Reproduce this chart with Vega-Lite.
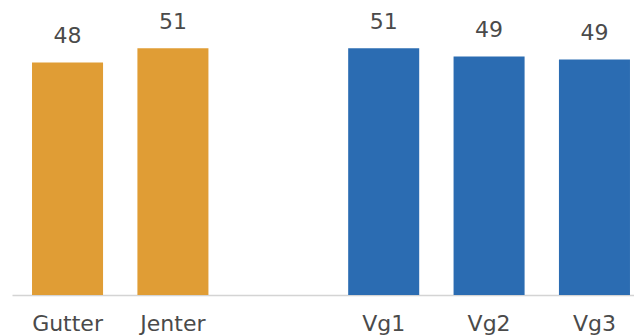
{
  "$schema": "https://vega.github.io/schema/vega-lite/v6.json",
  "autosize": "none",
  "width": 638,
  "height": 295,
  "padding": {"left": 12, "top": 0, "right": 0, "bottom": 41},
  "background": "white",
  "config": {"view": {"stroke": null}, "font": "DejaVu Sans"},
  "data": {"values": [
    {"cat": "Gutter", "value": 48.1, "group": "kjønn"},
    {"cat": "Jenter", "value": 51.0, "group": "kjønn"},
    {"cat": "Vg1", "value": 51.0, "group": "trinn"},
    {"cat": "Vg2", "value": 49.3, "group": "trinn"},
    {"cat": "Vg3", "value": 48.7, "group": "trinn"}
  ]},
  "encoding": {
    "x": {
      "field": "cat", "type": "nominal",
      "scale": {"domain": ["Gutter", "Jenter", " ", "Vg1", "Vg2", "Vg3"], "paddingInner": 0.326, "paddingOuter": 0.19},
      "axis": {"title": null, "labelAngle": 0, "ticks": false, "domainColor": "#d4d4d4", "domainWidth": 1.5, "labelFontSize": 22, "labelColor": "#4a4a4a", "labelPadding": 35, "labelBaseline": "alphabetic"}
    },
    "y": {"field": "value", "type": "quantitative", "scale": {"domain": [0, 61], "nice": false}, "axis": null}
  },
  "layer": [
    {
      "mark": {"type": "bar"},
      "encoding": {
        "color": {"field": "group", "type": "nominal", "scale": {"domain": ["kjønn", "trinn"], "range": ["#E09D35", "#2B6CB2"]}, "legend": null}
      }
    },
    {
      "mark": {"type": "text", "baseline": "alphabetic", "dy": -19.5, "fontSize": 22, "color": "#4a4a4a"},
      "encoding": {"text": {"field": "value", "type": "quantitative", "format": ".0f"}}
    }
  ]
}
